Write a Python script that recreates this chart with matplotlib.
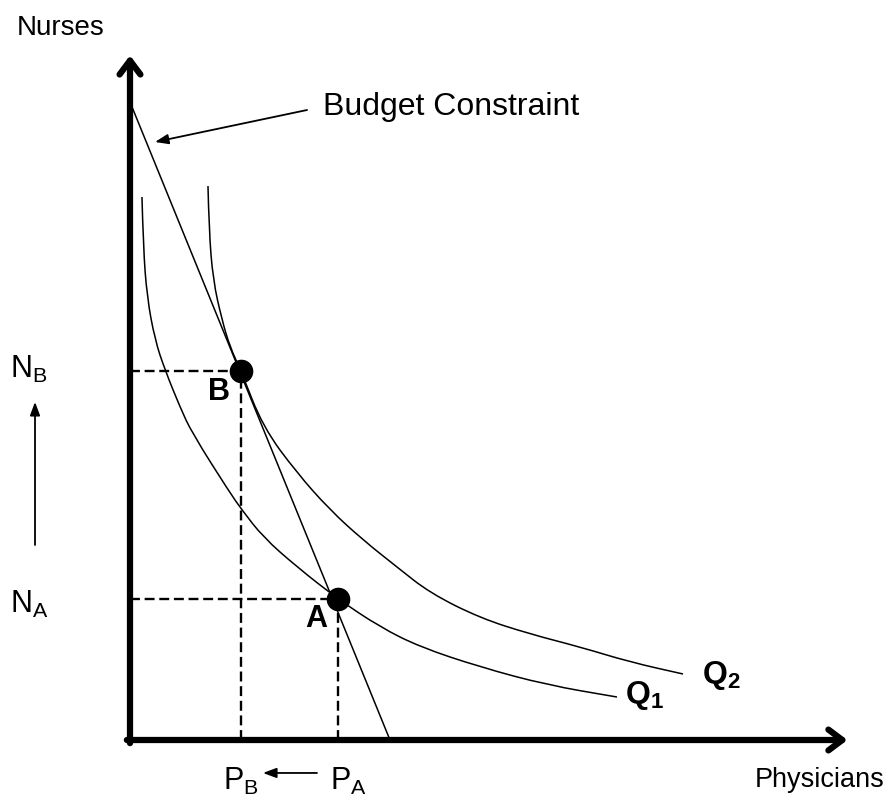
import matplotlib
matplotlib.use("Agg")
import matplotlib.pyplot as plt
from matplotlib.path import Path
from matplotlib.patches import PathPatch

plt.rcParams['font.family'] = ['Liberation Sans', 'DejaVu Sans']
plt.rcParams['mathtext.fontset'] = 'custom'
plt.rcParams['mathtext.rm'] = 'Liberation Sans'
plt.rcParams['mathtext.bf'] = 'Liberation Sans:bold'
plt.rcParams['mathtext.it'] = 'Liberation Sans:italic'

# Isoquant Q1 (physicians, nurses)
q1_x = [0.171, 0.19, 0.243, 0.357, 0.5, 0.714, 0.886, 1.429, 1.6, 1.9, 2.386,
        2.971, 3.571, 4.143, 5.0, 5.957, 6.957]
q1_y = [7.757, 7.043, 6.329, 5.714, 5.286, 4.757, 4.386, 3.529, 3.286, 2.9, 2.471,
        2.014, 1.614, 1.329, 1.043, 0.786, 0.614]

# Isoquant Q2
q2_x = [1.114, 1.129, 1.186, 1.314, 1.429, 1.586, 1.9, 2.386, 2.857, 3.329, 3.814,
        4.286, 5.0, 5.714, 6.429, 7.143, 7.9]
q2_y = [7.914, 7.286, 6.571, 6.0, 5.614, 5.271, 4.471, 3.814, 3.286, 2.857, 2.471,
        2.1, 1.743, 1.514, 1.329, 1.114, 0.943]

# Budget constraint end points (intercepts)
budget_x = [0.029, 3.714]
budget_y = [9.043, 0.0]

# Chosen input mixes
point_names = ["B", "A"]
point_x = [1.586, 2.971]
point_y = [5.271, 2.014]


def draw_arrow(ax, start, end, lw, style):
    ax.annotate("", xy=end, xytext=start,
                arrowprops=dict(arrowstyle=style, lw=lw, color="black",
                                shrinkA=0, shrinkB=0, capstyle="round",
                                joinstyle="round", fc="black"))


# smooth curve through the read points (quadratic bezier via midpoints)
def smooth_curve(ax, xs, ys):
    pts = list(zip(xs, ys))
    verts = [pts[0]]
    codes = [Path.MOVETO]
    for i in range(1, len(pts) - 1):
        mid = ((pts[i][0] + pts[i + 1][0]) / 2, (pts[i][1] + pts[i + 1][1]) / 2)
        verts += [pts[i], mid]
        codes += [Path.CURVE3, Path.CURVE3]
    verts.append(pts[-1])
    codes.append(Path.LINETO)
    ax.add_patch(PathPatch(Path(verts, codes), fill=False, lw=1.1, ec="black"))


fig = plt.figure(figsize=(8.93, 7.99), dpi=100)
ax = fig.add_axes([0, 0, 1, 1])
ax.set_xlim(-130 / 70, 763 / 70)
ax.set_ylim(-59 / 70, 740 / 70)
ax.axis("off")

# axes drawn as thick arrows
draw_arrow(ax, (0, -0.045), (0, 9.78), 4.5, "->,head_length=1.0,head_width=0.75")
draw_arrow(ax, (-0.045, 0), (10.25, 0), 4.5, "->,head_length=1.0,head_width=0.75")

# curves
smooth_curve(ax, q1_x, q1_y)
smooth_curve(ax, q2_x, q2_y)
ax.plot(budget_x, budget_y, color="black", lw=1.1)

# dashed guides + dots
for x, y in zip(point_x, point_y):
    ax.plot([0, x], [y, y], color="black", lw=1.7, dashes=(4.2, 2.0))
    ax.plot([x, x], [0, y], color="black", lw=1.7, dashes=(4.2, 2.0))
    ax.plot(x, y, marker="o", markersize=16, color="black", zorder=5)

# point labels
ax.text(1.114, 4.857, point_names[0], fontsize=22, fontweight="bold")
ax.text(2.5, 1.614, point_names[1], fontsize=22, fontweight="bold")

# isoquant labels
ax.text(7.071, 0.529, r"$\mathbf{Q_1}$", fontsize=23)
ax.text(8.171, 0.814, r"$\mathbf{Q_2}$", fontsize=23)

# axis titles
ax.text(-1.614, 10.071, "Nurses", fontsize=20)
ax.text(8.929, -0.671, "Physicians", fontsize=19.5)

# budget constraint pointer
ax.text(2.757, 8.929, "Budget Constraint", fontsize=23)
draw_arrow(ax, (2.529, 9.0), (0.357, 8.543), 1.3, "-|>,head_length=0.8,head_width=0.3")

# N and P labels with arrows
ax.text(-1.714, 5.171, r"$\mathregular{N_B}$", fontsize=22)
ax.text(-1.714, 1.814, r"$\mathregular{N_A}$", fontsize=22)
draw_arrow(ax, (-1.357, 2.786), (-1.357, 4.829), 1.3, "-|>,head_length=0.8,head_width=0.3")

ax.text(1.329, -0.714, r"$\mathregular{P_B}$", fontsize=22)
ax.text(2.857, -0.714, r"$\mathregular{P_A}$", fontsize=22)
draw_arrow(ax, (2.671, -0.471), (1.9, -0.471), 1.3, "-|>,head_length=0.8,head_width=0.3")

plt.savefig("out.png", dpi=100)
